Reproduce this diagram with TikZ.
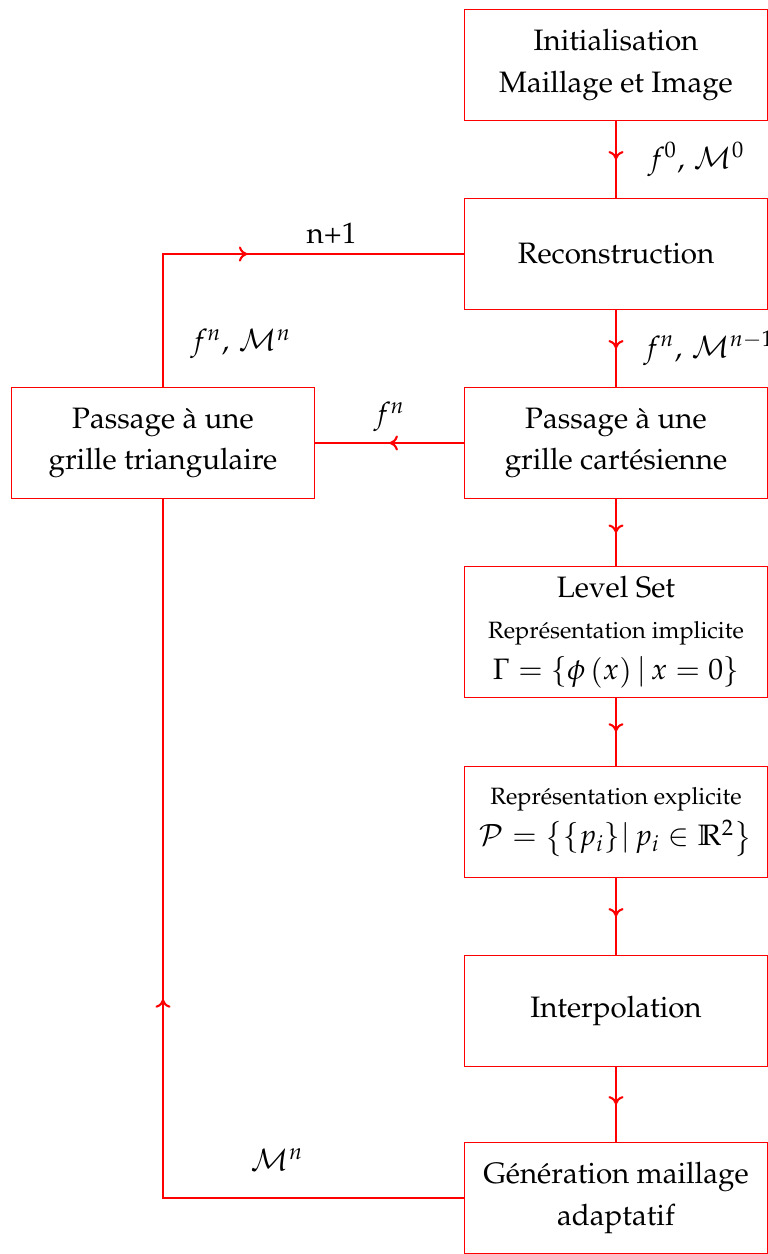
\documentclass[tikz,border=0pt]{standalone}
\usepackage[T1]{fontenc}
\usepackage{mathpazo}
\usepackage{amssymb}
\usetikzlibrary{arrows.meta,decorations.markings}

\begin{document}
\begin{tikzpicture}[x=0.0119cm,y=-0.0119cm,
  etape/.style={draw=red,thin,minimum width=3.6cm,minimum height=1.33cm,align=center,inner sep=2pt,
    font=\linespread{1.16}\selectfont},
  fleche/.style={red,line width=0.7pt,postaction={decorate},
    decoration={markings,mark=at position 0.5 with {\arrow{To[length=1mm,width=1.8mm]}}}},
  etiquette/.style={text=black}]
  \useasboundingbox (0,0) rectangle (768,1254);
  \node[etape] (init) at (616,65) {Initialisation\\Maillage et Image};
  \node[etape] (recon) at (616,254) {Reconstruction};
  \node[etape] (cart) at (616,443) {Passage à une\\grille cartésienne};
  \node[etape] (tri) at (163,443) {Passage à une\\grille triangulaire};
  \node[etape,minimum height=1.55cm] (level) at (616,632) {Level Set\\{\footnotesize Représentation implicite}\\$\Gamma=\{\phi\left(x\right)|\,x=0\}$};
  \node[etape] (expl) at (616,822) {{\footnotesize Représentation explicite}\\$\mathcal{P}=\left\{\{p_i\}|\,p_i\in\mathbb{R}^2\right\}$};
  \node[etape] (interp) at (616,1011) {Interpolation};
  \node[etape] (gen) at (616,1198) {Génération maillage\\adaptatif};
  \draw[fleche] (init) -- (recon) node[etiquette,midway,right=2.5mm] {$f^0,\,\mathcal{M}^0$};
  \draw[fleche] (recon) -- (cart) node[etiquette,midway,right=2mm] {$f^n,\,\mathcal{M}^{n-1}$};
  \draw[fleche] (cart) -- (tri) node[etiquette,midway,above] {$f^n$};
  \draw[fleche] (tri.north) |- (recon.west) node[etiquette,pos=0.16,right=2mm] {$f^n,\,\mathcal{M}^n$}
    node[etiquette,pos=0.78,above] {n+1};
  \draw[fleche] (cart) -- (level);
  \draw[fleche] (level) -- (expl);
  \draw[fleche] (expl) -- (interp);
  \draw[fleche] (interp) -- (gen);
  \draw[fleche] (gen.west) -| (tri.south) node[etiquette,pos=0.31,above=2mm] {$\mathcal{M}^n$};
\end{tikzpicture}
\end{document}
